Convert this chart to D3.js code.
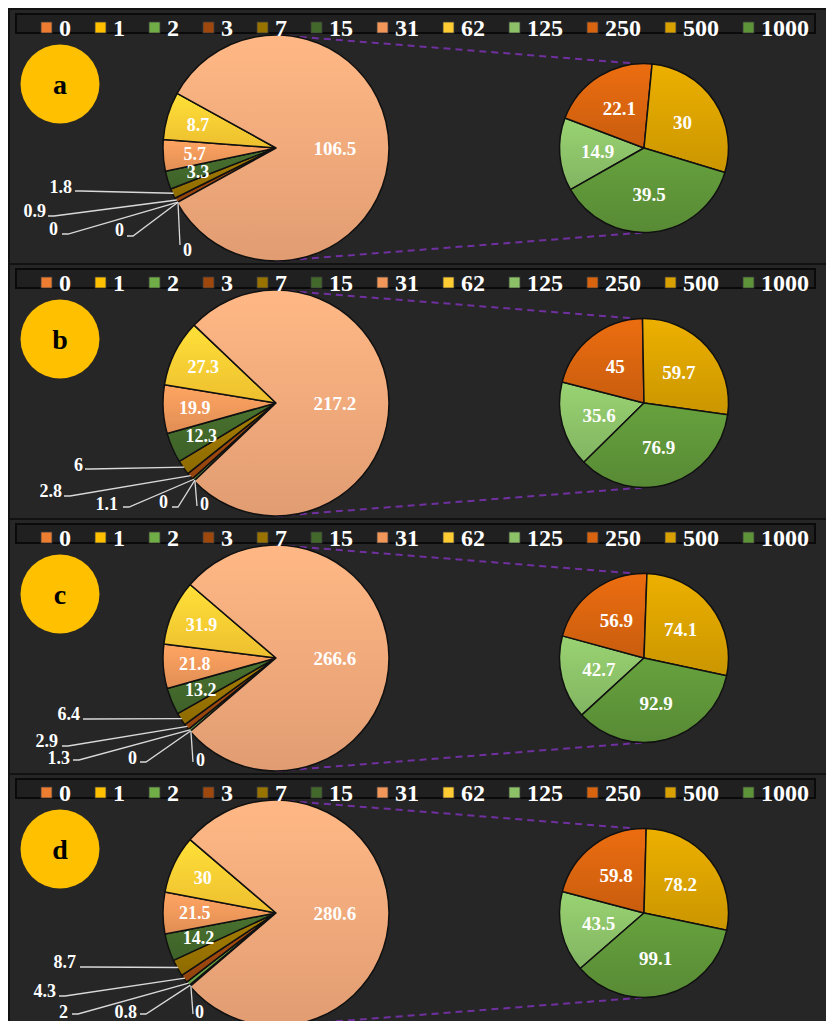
<!DOCTYPE html>
<html>
<head>
<meta charset="utf-8">
<script src="https://cdn.jsdelivr.net/npm/d3@7"></script>
<style>
  body { margin: 0; background: #fff; }
  svg text { font-family: 'Liberation Serif', 'Times New Roman', serif; font-weight: bold; }
</style>
</head>
<body>
<svg id="chart" width="826" height="1021"></svg>
<script>
// Legend categories (first 8 in main pie, last 4 in the secondary pie)
const categories = ['0', '1', '2', '3', '7', '15', '31', '62', '125', '250', '500', '1000'];
const panelNames = ['a', 'b', 'c', 'd'];

// Main pie values for categories 0..62
const mainValues = [
  [0, 0, 0, 0.9, 1.8, 3.3, 5.7, 8.7],
  [0, 0, 1.1, 2.8, 6, 12.3, 19.9, 27.3],
  [0, 0, 1.3, 2.9, 6.4, 13.2, 21.8, 31.9],
  [0, 0.8, 2, 4.3, 8.7, 14.2, 21.5, 30]
];

// Secondary pie values for categories 125, 250, 500, 1000
const secondValues = [
  [14.9, 22.1, 30, 39.5],
  [35.6, 45, 59.7, 76.9],
  [42.7, 56.9, 74.1, 92.9],
  [43.5, 59.8, 78.2, 99.1]
];

const mainColors = ['#ED7D31', '#FFC000', '#70AD47', '#9E480E', '#997300', '#43682B', '#F1975A', '#FFCD33'];
const otherColor = '#F2A87A';
const secondColors = ['#8CC168', '#D8640F', '#D9A100', '#5E9439'];

// Where the "500" slice starts on the secondary pie (degrees from 12 o'clock)
const secondRotation = [5.5, -1, 2, 1.5];

// Outside labels for categories 0,1,2,3,7: [textX, baseline, leaderX, leaderY] (panel relative)
const outsideLabels = [
  [[183, 247, 180, 236], [124, 227, 127, 227], [58, 226, 62, 225], [46, 208, 48, 207], [72, 184, 75, 182]],
  [[200, 246, 197, 242], [168, 244, 172, 243], [118, 246, 123, 243], [62, 233, 64, 232], [83, 207, 85, 205]],
  [[196, 247, 193, 243], [137, 245, 140, 243], [70, 245, 73, 241], [58, 228, 62, 227], [80, 201, 83, 200]],
  [[195, 244, 193, 240], [137, 244, 140, 240], [68, 244, 72, 240], [56, 223, 59, 222], [76, 194, 80, 193]]
];

const panelTop = 9;
const panelHeight = 255;
const mainCx = 276, secondCx = 644, pieCy = 139;
const mainR = 113, secondR = 84.5;

const svg = d3.select('#chart');
const fmt = v => String(Math.round(v * 10) / 10);

// Gradients: lighter top, darker bottom
const defs = svg.append('defs');
const allColors = mainColors.concat([otherColor], secondColors);
allColors.forEach((c, i) => {
  const g = defs.append('linearGradient')
    .attr('id', 'grad' + i)
    .attr('x1', 0).attr('y1', 0).attr('x2', 0).attr('y2', 1);
  g.append('stop').attr('offset', '0%').attr('stop-color', d3.color(c).brighter(0.25));
  g.append('stop').attr('offset', '100%').attr('stop-color', d3.color(c).darker(0.2));
});

function drawPanel(p) {
  const top = panelTop + p * panelHeight;
  const g = svg.append('g').attr('transform', `translate(0, ${top})`);

  // Panel background
  g.append('rect')
    .attr('x', 9).attr('y', 0)
    .attr('width', 830).attr('height', panelHeight)
    .attr('fill', '#262626')
    .attr('stroke', '#121212')
    .attr('stroke-width', 2);

  const mainData = mainValues[p];
  const secData = secondValues[p];
  const otherValue = d3.sum(secData);
  const mainTotal = d3.sum(mainData) + otherValue;
  const otherFrac = otherValue / mainTotal;

  // Series lines between the pies
  const lines = [
    [[mainCx, pieCy - mainR], [secondCx - 9, pieCy - secondR]],
    [[mainCx, pieCy + mainR], [secondCx, pieCy + secondR]]
  ];
  g.selectAll('.series-line')
    .data(lines)
    .enter().append('path')
    .attr('class', 'series-line')
    .attr('d', d => d3.line()(d))
    .attr('fill', 'none')
    .attr('stroke', '#7030A0')
    .attr('stroke-width', 2)
    .attr('stroke-dasharray', '7,5');

  // Main pie
  const mainStart = Math.PI / 2 + otherFrac * Math.PI;
  const mainPie = d3.pie().sort(null).value(d => d.value)
    .startAngle(mainStart).endAngle(mainStart + 2 * Math.PI);
  const mainItems = mainData.map((v, i) => ({ value: v, idx: i, label: fmt(v) }))
    .concat([{ value: otherValue, idx: 8, label: fmt(otherValue) }]);
  const mainArcs = mainPie(mainItems);
  const mainArc = d3.arc().innerRadius(0).outerRadius(mainR);

  const mg = g.append('g').attr('transform', `translate(${mainCx}, ${pieCy})`);
  mg.selectAll('.slice')
    .data(mainArcs)
    .enter().append('path')
    .attr('class', 'slice')
    .attr('d', mainArc)
    .attr('fill', d => `url(#grad${d.data.idx})`)
    .attr('stroke', '#111')
    .attr('stroke-width', 1.5)
    .attr('stroke-linejoin', 'round');

  // Inside labels (15, 31, 62 and the combined slice)
  mg.selectAll('.in-label')
    .data(mainArcs.filter(d => d.data.idx >= 5))
    .enter().append('text')
    .attr('class', 'in-label')
    .attr('transform', d => {
      const r = d.data.idx === 8 ? mainR * 0.52 : mainR * 0.72;
      return `translate(${d3.arc().innerRadius(r).outerRadius(r).centroid(d)})`;
    })
    .attr('dy', '0.35em')
    .attr('text-anchor', 'middle')
    .attr('fill', '#fff')
    .attr('font-size', d => d.data.idx === 8 ? 19 : 18)
    .text(d => d.data.label);

  // Outside labels with leader lines (0, 1, 2, 3, 7)
  const edgeArc = d3.arc().innerRadius(mainR - 1).outerRadius(mainR - 1);
  mainArcs.filter(d => d.data.idx < 5).forEach(d => {
    const [tx, ty, lx, ly] = outsideLabels[p][d.data.idx];
    const [ex, ey] = edgeArc.centroid(d);
    const edge = [ex + mainCx, ey + pieCy];
    const pts = tx < lx ? [[lx, ly], [lx + 6, ly], edge] : [[lx, ly], edge];
    g.append('path')
      .attr('d', d3.line()(pts))
      .attr('fill', 'none')
      .attr('stroke', '#d9d9d9')
      .attr('stroke-width', 1.3);
    g.append('text')
      .attr('x', tx).attr('y', ty)
      .attr('text-anchor', tx < lx ? 'end' : 'start')
      .attr('fill', '#fff')
      .attr('font-size', 18)
      .text(d.data.label);
  });

  // Secondary pie
  const secTotal = d3.sum(secData);
  const lead = (secData[0] + secData[1]) / secTotal * 2 * Math.PI;
  const secStart = secondRotation[p] * Math.PI / 180 - lead;
  const secPie = d3.pie().sort(null).value(d => d.value)
    .startAngle(secStart).endAngle(secStart + 2 * Math.PI);
  const secArcs = secPie(secData.map((v, i) => ({ value: v, idx: 9 + i, label: fmt(v) })));
  const secArc = d3.arc().innerRadius(0).outerRadius(secondR);
  const labelArc = d3.arc().innerRadius(secondR * 0.55).outerRadius(secondR * 0.55);

  const sg = g.append('g').attr('transform', `translate(${secondCx}, ${pieCy})`);
  sg.selectAll('.slice')
    .data(secArcs)
    .enter().append('path')
    .attr('class', 'slice')
    .attr('d', secArc)
    .attr('fill', d => `url(#grad${d.data.idx})`)
    .attr('stroke', '#111')
    .attr('stroke-width', 1.5)
    .attr('stroke-linejoin', 'round');

  sg.selectAll('.in-label')
    .data(secArcs)
    .enter().append('text')
    .attr('class', 'in-label')
    .attr('transform', d => `translate(${labelArc.centroid(d)})`)
    .attr('dy', '0.35em')
    .attr('text-anchor', 'middle')
    .attr('fill', '#fff')
    .attr('font-size', 19)
    .text(d => d.data.label);

  // Legend box
  g.append('rect')
    .attr('x', 16).attr('y', 5)
    .attr('width', 799).attr('height', 19)
    .attr('fill', '#202020')
    .attr('stroke', '#0a0a0a')
    .attr('stroke-width', 2);

  const legendColors = mainColors.concat(secondColors);
  let x = 41;
  categories.forEach((cat, i) => {
    g.append('rect')
      .attr('x', x).attr('y', 13)
      .attr('width', 11).attr('height', 11)
      .attr('fill', legendColors[i])
      .attr('stroke', '#3a3a3a')
      .attr('stroke-width', 0.8);
    const t = g.append('text')
      .attr('x', x + 18).attr('y', 27)
      .attr('fill', '#fff')
      .attr('font-size', 24)
      .text(cat);
    x += 18 + t.node().getComputedTextLength() + 24;
  });

  // Panel letter badge
  g.append('circle')
    .attr('cx', 60).attr('cy', 75)
    .attr('r', 39.5)
    .attr('fill', '#FFC000');
  g.append('text')
    .attr('x', 60).attr('y', 75)
    .attr('dy', '0.35em')
    .attr('text-anchor', 'middle')
    .attr('fill', '#000')
    .attr('font-size', 28)
    .text(panelNames[p]);
}

panelNames.forEach((name, p) => drawPanel(p));
</script>
</body>
</html>
